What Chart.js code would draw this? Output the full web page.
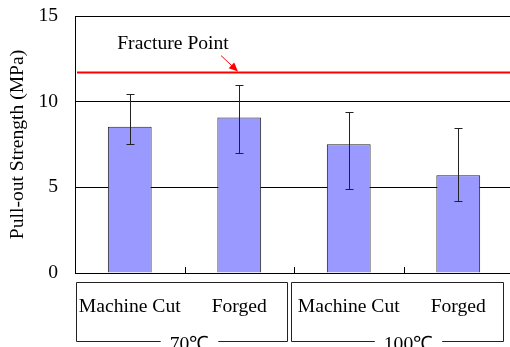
<!DOCTYPE html>
<html>
<head>
<meta charset="utf-8">
<script src="https://cdn.jsdelivr.net/npm/chart.js@4"></script>
<style>
  html, body { margin: 0; padding: 0; background: #fff; overflow: hidden; }
  canvas { display: block; }
</style>
</head>
<body>
<canvas id="c" width="514" height="347"></canvas>
<script>
// Pull-out strength by process and temperature
const categories = ['Machine Cut', 'Forged', 'Machine Cut', 'Forged'];
const groups = ['70\u2103', '100\u2103'];
const strength = [8.54, 9.08, 7.52, 5.71];
const errHigh = [10.43, 10.97, 9.37, 8.44];
const errLow = [7.52, 7.02, 4.89, 4.19];
const fracturePoint = 11.7;
const fractureLabel = 'Fracture Point';
const yTicks = [0, 5, 10, 15];

const FONT = '"Liberation Serif", "Times New Roman", serif';
const FONT_SIZE = 19.6;

const overlay = {
  id: 'overlay',
  afterDatasetsDraw(chart) {
    const { ctx, chartArea: a, scales: { x, y } } = chart;
    const step = x.getPixelForValue(1) - x.getPixelForValue(0);
    ctx.save();

    // error bars
    ctx.strokeStyle = '#222';
    ctx.lineWidth = 1;
    strength.forEach((v, i) => {
      const cx = Math.round(x.getPixelForValue(i)) + 0.5;
      const yt = Math.round(y.getPixelForValue(errHigh[i])) + 0.5;
      const yb = Math.round(y.getPixelForValue(errLow[i])) + 0.5;
      ctx.beginPath();
      ctx.moveTo(cx, yt); ctx.lineTo(cx, yb);
      ctx.moveTo(cx - 4, yt); ctx.lineTo(cx + 4, yt);
      ctx.moveTo(cx - 4, yb); ctx.lineTo(cx + 4, yb);
      ctx.stroke();
    });

    // inner tick marks between categories
    ctx.strokeStyle = '#000';
    for (let i = 0; i < categories.length - 1; i++) {
      const bx = Math.round(x.getPixelForValue(i) + step / 2) + 0.5;
      ctx.beginPath();
      ctx.moveTo(bx, a.bottom); ctx.lineTo(bx, a.bottom - 6);
      ctx.stroke();
    }

    // fracture point line
    const fy = y.getPixelForValue(fracturePoint);
    ctx.strokeStyle = '#ff0000';
    ctx.lineWidth = 2;
    ctx.beginPath();
    ctx.moveTo(a.left + 2, fy); ctx.lineTo(a.right, fy);
    ctx.stroke();

    // annotation text and arrow
    ctx.fillStyle = '#000';
    ctx.font = FONT_SIZE + 'px ' + FONT;
    ctx.textAlign = 'center';
    ctx.textBaseline = 'middle';
    ctx.fillText(fractureLabel, a.left + 98, fy - 29);

    const ax0 = a.left + 146, ay0 = fy - 17;
    const ax1 = a.left + 163, ay1 = fy - 1;
    const ang = Math.atan2(ay1 - ay0, ax1 - ax0);
    ctx.strokeStyle = '#ff0000';
    ctx.fillStyle = '#ff0000';
    ctx.lineWidth = 1;
    ctx.beginPath();
    ctx.moveTo(ax0, ay0);
    ctx.lineTo(ax1 - 6 * Math.cos(ang), ay1 - 6 * Math.sin(ang));
    ctx.stroke();
    ctx.beginPath();
    ctx.moveTo(ax1, ay1);
    ctx.lineTo(ax1 - 9 * Math.cos(ang) + 4 * Math.sin(ang), ay1 - 9 * Math.sin(ang) - 4 * Math.cos(ang));
    ctx.lineTo(ax1 - 9 * Math.cos(ang) - 4 * Math.sin(ang), ay1 - 9 * Math.sin(ang) + 4 * Math.cos(ang));
    ctx.closePath();
    ctx.fill();

    // category labels
    ctx.fillStyle = '#000';
    categories.forEach((c, i) => {
      ctx.fillText(c, x.getPixelForValue(i), a.bottom + 34);
    });

    // group boxes with their temperature labels
    const insets = [[-0.5, 7], [3, 10]];
    ctx.strokeStyle = '#222';
    ctx.lineWidth = 1;
    const top = a.bottom + 9.5, bottom = a.bottom + 68.5;
    groups.forEach((g, gi) => {
      const l = Math.round(x.getPixelForValue(gi * 2) - step / 2 - insets[gi][0]) + 0.5;
      const r = Math.round(x.getPixelForValue(gi * 2 + 1) + step / 2 - insets[gi][1]) + 0.5;
      const tc = (x.getPixelForValue(gi * 2) + x.getPixelForValue(gi * 2 + 1)) / 2 + 5;
      const tw = ctx.measureText(g).width;
      ctx.beginPath();
      ctx.moveTo(tc - tw / 2 - 9, bottom);
      ctx.lineTo(l, bottom);
      ctx.lineTo(l, top);
      ctx.lineTo(r, top);
      ctx.lineTo(r, bottom);
      ctx.lineTo(tc + tw / 2 + 9, bottom);
      ctx.stroke();
      ctx.fillText(g, tc, bottom + 3);
    });

    ctx.restore();
  }
};

new Chart(document.getElementById('c'), {
  type: 'bar',
  data: {
    labels: categories,
    datasets: [{
      data: strength,
      backgroundColor: '#9999ff',
      borderColor: '#222',
      borderWidth: 1,
      barPercentage: 0.4,
      categoryPercentage: 1
    }]
  },
  options: {
    responsive: false,
    animation: false,
    layout: { padding: { top: 16, right: 1, left: 0, bottom: 0 } },
    plugins: { legend: { display: false }, tooltip: { enabled: false } },
    scales: {
      x: {
        grid: { display: false },
        border: { display: true, color: '#000', width: 1 },
        ticks: { display: false },
        afterFit(scale) {
          scale.height = 74;
          scale.paddingLeft = 0; scale.paddingRight = 0;
        }
      },
      y: {
        min: 0,
        max: 15,
        afterBuildTicks(scale) { scale.ticks = yTicks.map(v => ({ value: v })); },
        grid: { color: '#000', lineWidth: 1, drawTicks: false },
        border: { display: true, color: '#000', width: 1 },
        ticks: { padding: 17, color: '#000', font: { family: FONT, size: FONT_SIZE } },
        title: {
          display: true,
          text: 'Pull-out Strength (MPa)',
          color: '#000',
          font: { family: FONT, size: FONT_SIZE },
          padding: { top: 6, bottom: 0 }
        },
        afterFit(scale) {
          scale.width = 75;
          scale.paddingTop = 0; scale.paddingBottom = 0;
        }
      }
    }
  },
  plugins: [overlay]
});
</script>
</body>
</html>
